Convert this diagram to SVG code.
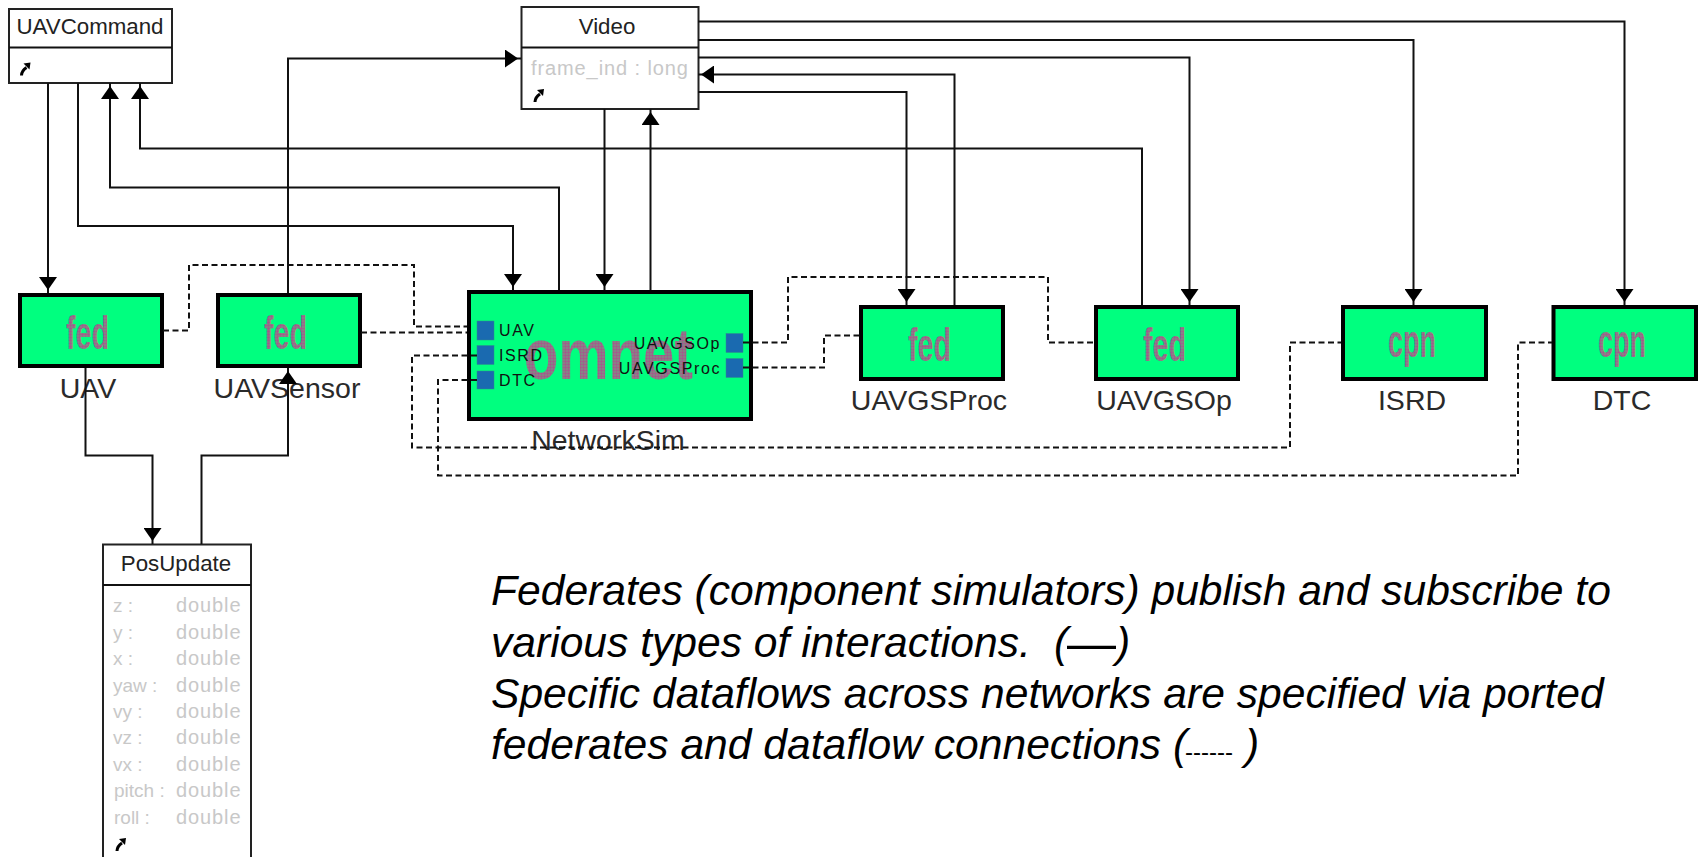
<svg xmlns="http://www.w3.org/2000/svg" xmlns:xlink="http://www.w3.org/1999/xlink" width="1698" height="857" viewBox="0 0 1698 857">
<style>
text{font-family:"Liberation Sans",Arial,sans-serif}
.cls{fill:#fff;stroke:#222;stroke-width:2}
.title{font-size:22.300px;fill:#222;text-anchor:middle}
.attr{font-size:19px;fill:#c8c8c8}
.sp{font-size:20px;letter-spacing:.9px}
.fbox{fill:#00ff7f;stroke:#000;stroke-width:4}
.lab{font-size:28.500px;fill:#2a2a2a;text-anchor:middle}
.big{font-weight:bold;fill:url(#dots)}
.port{fill:#1a6ab0;stroke:#2f8f8a;stroke-width:.5}
.plab{font-size:16px;letter-spacing:1.600px;fill:#111}
.c{fill:none;stroke:#111;stroke-width:2}
.d{fill:none;stroke:#111;stroke-width:2;stroke-dasharray:6 3.5}
.note{font-size:42.600px;font-style:italic;fill:#000}
</style>
<defs>
<marker id="ah" markerUnits="userSpaceOnUse" markerWidth="17" markerHeight="18" refX="16" refY="9" orient="auto"><path d="M0 0L13 9L0 18Z" fill="#000"/></marker>
<pattern id="dots" patternUnits="userSpaceOnUse" width="3" height="3"><rect width="3" height="3" fill="#7f8f84"/><circle cx="1.500" cy="1.500" r="1.200" fill="#a8558c"/></pattern>
<g id="sc"><path d="M1 13C1 9 3 7 6 5" fill="none" stroke="#000" stroke-width="3"/><path d="M3 1L10 0L9 7Z" fill="#000"/></g>
</defs>

<g id="UAVCommand">
<rect class="cls" x="9" y="9" width="163" height="74"/><path class="c" d="M9 47.500H172"/>
<text class="title" x="90" y="34">UAVCommand</text><use href="#sc" x="20.500" y="62.500"/>
</g>
<g id="Video">
<rect class="cls" x="521.500" y="7" width="177" height="102"/><path class="c" d="M521.500 47.500H698.500"/>
<text class="title" x="607" y="34">Video</text>
<text class="attr sp" x="531" y="75">frame_ind : long</text><use href="#sc" x="534" y="89"/>
</g>
<g id="PosUpdate">
<path class="cls" d="M103 860V544.500H251V860"/><path class="c" d="M103 585H251"/>
<text class="title" x="176" y="571">PosUpdate</text>
<g class="attr">
<text x="113" y="612">z :</text><text class="sp" x="176" y="612">double</text>
<text x="113" y="638.500">y :</text><text class="sp" x="176" y="638.500">double</text>
<text x="113" y="665">x :</text><text class="sp" x="176" y="665">double</text>
<text x="113" y="691.500">yaw :</text><text class="sp" x="176" y="691.500">double</text>
<text x="113" y="718">vy :</text><text class="sp" x="176" y="718">double</text>
<text x="113" y="744">vz :</text><text class="sp" x="176" y="744">double</text>
<text x="113" y="771">vx :</text><text class="sp" x="176" y="771">double</text>
<text x="114" y="797">pitch :</text><text class="sp" x="176" y="797">double</text>
<text x="114" y="823.500">roll :</text><text class="sp" x="176" y="823.500">double</text>
</g>
<use href="#sc" x="116" y="838"/>
</g>
<g id="UAV">
<rect class="fbox" x="20" y="295" width="142" height="71"/>
<text class="big" x="66" y="349" font-size="46" textLength="43" lengthAdjust="spacingAndGlyphs">fed</text>
<text class="lab" x="88" y="398">UAV</text>
</g>
<g id="UAVSensor">
<rect class="fbox" x="218" y="295" width="142" height="71"/>
<text class="big" x="264" y="349" font-size="46" textLength="43" lengthAdjust="spacingAndGlyphs">fed</text>
<text class="lab" x="287" y="398">UAVSensor</text>
</g>
<g id="NetworkSim">
<rect class="fbox" x="469" y="292" width="282" height="127"/>
<text class="big" x="524" y="379" font-size="72" textLength="169" lengthAdjust="spacingAndGlyphs">omnet</text>
<rect class="port" x="477" y="321" width="17" height="19"/><rect class="port" x="477" y="345.500" width="17" height="19"/><rect class="port" x="477" y="371" width="17" height="18"/>
<rect class="port" x="726" y="333.500" width="17" height="19"/><rect class="port" x="726" y="358.500" width="17" height="19"/>
<text class="plab" x="499" y="336">UAV</text><text class="plab" x="499" y="361">ISRD</text><text class="plab" x="499" y="386">DTC</text>
<text class="plab" x="721" y="348.500" text-anchor="end">UAVGSOp</text><text class="plab" x="721" y="373.500" text-anchor="end">UAVGSProc</text>
<text class="lab" x="608" y="450">NetworkSim</text>
</g>
<g id="UAVGSProc">
<rect class="fbox" x="861" y="307" width="142" height="72"/>
<text class="big" x="908" y="361" font-size="46" textLength="43" lengthAdjust="spacingAndGlyphs">fed</text>
<text class="lab" x="929" y="410">UAVGSProc</text>
</g>
<g id="UAVGSOp">
<rect class="fbox" x="1096" y="307" width="142" height="72"/>
<text class="big" x="1143" y="361" font-size="46" textLength="43" lengthAdjust="spacingAndGlyphs">fed</text>
<text class="lab" x="1164" y="410">UAVGSOp</text>
</g>
<g id="ISRD">
<rect class="fbox" x="1343" y="307" width="143" height="72"/>
<text class="big" x="1388" y="357" font-size="46" textLength="48" lengthAdjust="spacingAndGlyphs">cpn</text>
<text class="lab" x="1412" y="410">ISRD</text>
</g>
<g id="DTC">
<rect class="fbox" x="1553.500" y="307" width="142.500" height="72"/>
<text class="big" x="1598" y="357" font-size="46" textLength="48" lengthAdjust="spacingAndGlyphs">cpn</text>
<text class="lab" x="1622" y="410">DTC</text>
</g>

<g id="connectors">
<path class="c" marker-end="url(#ah)" d="M48 83V293"/>
<path class="c" marker-end="url(#ah)" d="M78 83V226H513V290"/>
<path class="c" marker-end="url(#ah)" d="M559 290V187.500H110V83"/>
<path class="c" marker-end="url(#ah)" d="M1142 305V148.500H140V83"/>
<path class="c" marker-end="url(#ah)" d="M288 293V58.500H521"/>
<path class="c" marker-end="url(#ah)" d="M604.500 109V290"/>
<path class="c" marker-end="url(#ah)" d="M650.500 290V109"/>
<path class="c" marker-end="url(#ah)" d="M698 92H906.500V305"/>
<path class="c" marker-end="url(#ah)" d="M954.500 305V74.500H698"/>
<path class="c" marker-end="url(#ah)" d="M698 57.500H1189.500V305"/>
<path class="c" marker-end="url(#ah)" d="M698 40H1413.500V305"/>
<path class="c" marker-end="url(#ah)" d="M698 21.500H1624.500V305"/>
<path class="c" marker-end="url(#ah)" d="M85.500 368V455.500H152.500V544"/>
<path class="c" marker-end="url(#ah)" d="M201.500 544V455.500H288V368"/>
<path class="d" d="M163 330.500H189V265H414V326.500H467"/>
<path class="d" d="M361 332.500H467"/>
<path class="d" d="M477 355.500H412V447.500H1290V342.500H1341"/>
<path class="d" d="M477 380H438V475.500H1518V342.500H1552"/>
<path class="d" d="M743 342.500H788V277H1048V342.500H1094"/>
<path class="d" d="M743 367.500H824V335.500H860"/>
</g>

<g id="note">
<text class="note" x="491" y="605">Federates (component simulators) publish and subscribe to</text>
<text class="note" x="491" y="657">various types of interactions.</text>
<text class="note" x="1054" y="657">(</text><text x="1067" y="660" font-size="49" fill="#000" font-weight="normal">—</text><text class="note" x="1116" y="657">)</text>
<text class="note" x="491" y="708">Specific dataflows across networks are specified via ported</text>
<text class="note" x="491" y="759">federates and dataflow connections (</text>
<text x="1185" y="760" font-size="24" fill="#000">------</text>
<text class="note" x="1245" y="759">)</text>
</g>
</svg>
